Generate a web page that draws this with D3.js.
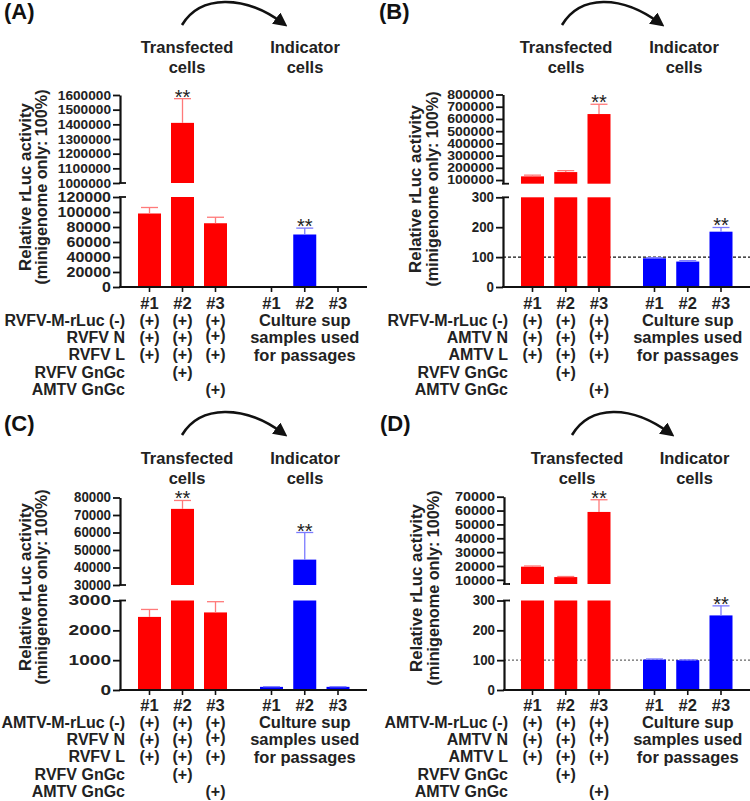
<!DOCTYPE html>
<html><head><meta charset="utf-8">
<script src="https://cdn.jsdelivr.net/npm/d3@7"></script>
<style>
body{margin:0;background:#fff;}
svg text{font-family:"Liberation Sans",Arial,Helvetica,sans-serif;}
</style></head><body>
<svg id="chart" width="750" height="801"></svg>
<script>
// ---------- DATA ----------
const samples = ["#1", "#2", "#3"];
const plusMatrix = [[1,1,1],[1,1,1],[1,1,1],[0,1,0],[0,0,1]];
const cultureText = ["Culture sup", "samples used", "for passages"];

// Panel A
const aRows = ["RVFV-M-rLuc (-)", "RVFV N", "RVFV L", "RVFV GnGc", "AMTV GnGc"];
const aTransfected = [98000, 1410000, 85000];
const aTransfectedSD = [8000, 165000, 8000];
const aIndicator = [100, 70000, 100];
const aIndicatorSD = [10, 8500, 10];
const aTicksBottom = [0, 20000, 40000, 60000, 80000, 100000, 120000];
const aTicksTop = [1000000, 1100000, 1200000, 1300000, 1400000, 1500000, 1600000];

// Panel B
const bRows = ["RVFV-M-rLuc (-)", "AMTV N", "AMTV L", "RVFV GnGc", "AMTV GnGc"];
const bTransfected = [130000, 165000, 640000];
const bTransfectedSD = [10000, 12000, 80000];
const bIndicator = [96, 85, 185];
const bIndicatorSD = [2, 3, 14];
const bTicksBottom = [0, 100, 200, 300];
const bTicksTop = [100000, 200000, 300000, 400000, 500000, 600000, 700000, 800000];

// Panel C
const cRows = ["AMTV-M-rLuc (-)", "RVFV N", "RVFV L", "RVFV GnGc", "AMTV GnGc"];
const cTransfected = [2450, 73500, 2600];
const cTransfectedSD = [250, 4800, 360];
const cIndicator = [105, 44500, 105];
const cIndicatorSD = [5, 15500, 5];
const cTicksBottom = [0, 1000, 2000, 3000];
const cTicksTop = [30000, 40000, 50000, 60000, 70000, 80000];

// Panel D
const dRows = ["AMTV-M-rLuc (-)", "AMTV N", "AMTV L", "RVFV GnGc", "AMTV GnGc"];
const dTransfected = [19500, 12000, 59000];
const dTransfectedSD = [500, 400, 8800];
const dIndicator = [102, 100, 250];
const dIndicatorSD = [2, 1, 32];
const dTicksBottom = [0, 100, 200, 300];
const dTicksTop = [10000, 20000, 30000, 40000, 50000, 60000, 70000];

// ---------- LAYOUT ----------
const panels = [
  {label:"(A)", lx:4, ly:19, ax:120, zeroY:287, arrow:[182,25,284,24], titleY:53, transX:187, indX:305,
   yTitle:[31,47,187], rowX:125, rowTop:308.5,
   rows:aRows, red:aTransfected, redSD:aTransfectedSD, blue:aIndicator, blueSD:aIndicatorSD, sigIdx:1,
   redRange:[149.5,215.5], blueRange:[271.5,338], xEnd:367, ref:null,
   segs:[{domain:[0,120000], range:[287,197], ticks:aTicksBottom, dw:8.9, fs:14},
         {domain:[1000000,1600000], range:[183,95], ticks:aTicksTop, dw:7.6, fs:13.5}]},
  {label:"(B)", lx:379, ly:19, ax:503, zeroY:287, arrow:[562,25,661,24], titleY:53, transX:566, indX:684,
   yTitle:[421,438,189], rowX:508, rowTop:308.5,
   rows:bRows, red:bTransfected, redSD:bTransfectedSD, blue:bIndicator, blueSD:bIndicatorSD, sigIdx:2,
   redRange:[532.5,599], blueRange:[654.5,721], xEnd:750, ref:{v:100, color:"#111", dash:"3,2"},
   segs:[{domain:[0,300], range:[287,197.3], ticks:bTicksBottom, dw:7.4, fs:14},
         {domain:[70000,800000], range:[183.7,94.5], ticks:bTicksTop, dw:7.8, fs:12}]},
  {label:"(C)", lx:4, ly:431, ax:120, zeroY:690, arrow:[182,435,284,434], titleY:464, transX:187, indX:305,
   yTitle:[31,47,587], rowX:125, rowTop:710.5,
   rows:cRows, red:cTransfected, redSD:cTransfectedSD, blue:cIndicator, blueSD:cIndicatorSD, sigIdx:1,
   redRange:[149.5,215.5], blueRange:[271.5,338], xEnd:367, ref:null,
   segs:[{domain:[0,3000], range:[690,600.5], ticks:cTicksBottom, dw:10.6, fs:14},
         {domain:[30000,80000], range:[585,497.5], ticks:cTicksTop, dw:7.4, fs:14}]},
  {label:"(D)", lx:380, ly:431, ax:504, zeroY:690, arrow:[572,435,671,434], titleY:464, transX:577, indX:694.5,
   yTitle:[422,439,588], rowX:508, rowTop:710.5,
   rows:dRows, red:dTransfected, redSD:dTransfectedSD, blue:dIndicator, blueSD:dIndicatorSD, sigIdx:2,
   redRange:[532.5,599], blueRange:[654.5,721], xEnd:750, ref:{v:100, color:"#666", dash:"2,2"},
   segs:[{domain:[0,300], range:[690,600.5], ticks:dTicksBottom, dw:7.4, fs:14},
         {domain:[7000,70000], range:[584,496.7], ticks:dTicksTop, dw:8.0, fs:13}]}
];

const RED = "#ff0000", BLUE = "#0000ff", RED_ERR = "#ff7a7a", BLUE_ERR = "#7a7aff";
const BAR_W = 23, ROW_H = 17.3;

const svg = d3.select("#chart");
svg.append("rect").attr("width",750).attr("height",801).attr("fill","#fff");
const defs = svg.append("defs");
defs.append("marker").attr("id","ah").attr("viewBox","0 0 10 10").attr("refX",7).attr("refY",5)
  .attr("markerWidth",14).attr("markerHeight",14).attr("markerUnits","userSpaceOnUse").attr("orient","auto")
  .append("path").attr("d","M0,0 L10,5 L0,10 z").attr("fill","#111");

function drawPanel(p) {
  const g = svg.append("g");
  // panel label
  g.append("text").attr("x",p.lx).attr("y",p.ly).attr("font-size",22).attr("font-weight","bold").attr("fill","#111").text(p.label);
  // arrow
  const [x1,y1,x2,y2] = p.arrow;
  g.append("path")
    .attr("d",`M${x1},${y1} C${x1+18},${y1-30} ${x2-40},${y1-31} ${x2},${y2}`)
    .attr("fill","none").attr("stroke","#111").attr("stroke-width",2.6).attr("marker-end","url(#ah)");
  // titles
  [["Transfected","cells",p.transX],["Indicator","cells",p.indX]].forEach(([t1,t2,x])=>{
    g.append("text").attr("x",x).attr("y",p.titleY).attr("text-anchor","middle").attr("font-size",16.5).attr("font-weight","bold").attr("fill","#222").text(t1);
    g.append("text").attr("x",x).attr("y",p.titleY+19.5).attr("text-anchor","middle").attr("font-size",16.5).attr("font-weight","bold").attr("fill","#222").text(t2);
  });
  // y title
  g.append("text").attr("transform",`translate(${p.yTitle[0]},${p.yTitle[2]}) rotate(-90)`).attr("text-anchor","middle")
    .attr("font-size",16.8).attr("font-weight","bold").attr("fill","#222").text("Relative rLuc activity");
  g.append("text").attr("transform",`translate(${p.yTitle[1]},${p.yTitle[2]}) rotate(-90)`).attr("text-anchor","middle")
    .attr("font-size",16.2).attr("font-weight","bold").attr("fill","#222").text("(minigenome only: 100%)");

  const xRed = d3.scalePoint().domain(samples).range(p.redRange);
  const xBlue = d3.scalePoint().domain(samples).range(p.blueRange);
  const series = [
    {x:xRed, v:p.red, sd:p.redSD, color:RED, err:RED_ERR},
    {x:xBlue, v:p.blue, sd:p.blueSD, color:BLUE, err:BLUE_ERR}
  ];

  // reference line
  if (p.ref) {
    const yb = d3.scaleLinear().domain(p.segs[0].domain).range(p.segs[0].range);
    g.append("line").attr("x1",p.ax).attr("x2",p.xEnd).attr("y1",yb(p.ref.v)).attr("y2",yb(p.ref.v))
      .attr("stroke",p.ref.color).attr("stroke-width",1.2).attr("stroke-dasharray",p.ref.dash);
  }

  const errTops = [[],[]];
  p.segs.forEach(seg => {
    const y = d3.scaleLinear().domain(seg.domain).range(seg.range);
    const [lo, hi] = seg.domain;
    series.forEach((s, si) => {
      samples.forEach((k, i) => {
        const v = s.v[i], top = v + s.sd[i];
        const cx = s.x(k);
        if (v > lo) {
          g.append("rect").attr("x",cx-BAR_W/2).attr("width",BAR_W)
            .attr("y",y(Math.min(v,hi))).attr("height",y(lo)-y(Math.min(v,hi))).attr("fill",s.color);
        }
        if (v >= lo && v <= hi) {
          const t = Math.min(top, hi);
          g.append("line").attr("x1",cx).attr("x2",cx).attr("y1",y(v)).attr("y2",y(t)).attr("stroke",s.err).attr("stroke-width",1.3);
          if (top <= hi) {
            g.append("line").attr("x1",cx-8.5).attr("x2",cx+8.5).attr("y1",y(t)).attr("y2",y(t)).attr("stroke",s.err).attr("stroke-width",1.3);
            errTops[si][i] = y(t);
          }
        }
      });
    });
    // axis segment
    const axis = d3.axisLeft(y).tickValues(seg.ticks).tickSize(7).tickSizeOuter(0).tickPadding(2).tickFormat(d => String(d));
    const ag = g.append("g").attr("transform",`translate(${p.ax},0)`).call(axis);
    ag.select(".domain").attr("stroke","#111").attr("stroke-width",2.2);
    ag.selectAll(".tick line").attr("stroke","#111").attr("stroke-width",1.8);
    ag.selectAll(".tick text").attr("fill","#222").attr("font-size",seg.fs).attr("font-weight","bold")
      .attr("font-family","'Liberation Sans',Arial,sans-serif")
      .attr("textLength", d => String(d).length * seg.dw).attr("lengthAdjust","spacingAndGlyphs");
  });
  // break feet
  const yBot = p.segs[0].range[1], yTopSeg = p.segs[1].range[0];
  [yBot, yTopSeg].forEach(yy => {
    g.append("line").attr("x1",p.ax-1).attr("x2",p.ax+6).attr("y1",yy).attr("y2",yy).attr("stroke","#111").attr("stroke-width",1.8);
  });
  // x axis
  g.append("line").attr("x1",p.ax-1).attr("x2",p.xEnd).attr("y1",p.zeroY).attr("y2",p.zeroY).attr("stroke","#111").attr("stroke-width",2.2);
  series.forEach(s => samples.forEach(k => {
    g.append("line").attr("x1",s.x(k)).attr("x2",s.x(k)).attr("y1",p.zeroY).attr("y2",p.zeroY+5).attr("stroke","#111").attr("stroke-width",1.6);
    g.append("text").attr("x",s.x(k)).attr("y",p.rowTop).attr("text-anchor","middle").attr("font-size",16.5)
      .attr("font-weight","bold").attr("fill","#222").text(k);
  }));
  // significance
  series.forEach((s, si) => {
    const i = p.sigIdx;
    g.append("text").attr("x",s.x(samples[i])).attr("y",errTops[si][i] + 5).attr("text-anchor","middle")
      .attr("font-size",20).attr("fill","#222").text("**");
  });
  // construct rows
  p.rows.forEach((r, ri) => {
    const yy = p.rowTop + ROW_H*(ri+1);
    g.append("text").attr("x",p.rowX).attr("y",yy).attr("text-anchor","end").attr("font-size",16)
      .attr("font-weight","bold").attr("fill","#222").text(r);
    samples.forEach((k, ki) => {
      if (plusMatrix[ri][ki]) {
        const raise = (ri === 1 && ki === 2) ? -2.5 : 0;
        g.append("text").attr("x",xRed(k)).attr("y",yy+raise).attr("text-anchor","middle").attr("font-size",16)
          .attr("font-weight","bold").attr("fill","#222").text("(+)");
      }
    });
  });
  cultureText.forEach((t, ti) => {
    g.append("text").attr("x",xBlue(samples[1])).attr("y",p.rowTop + ROW_H*(ti+1) + (ti===2?1:0)).attr("text-anchor","middle")
      .attr("font-size",16.5).attr("font-weight","bold").attr("fill","#222").text(t);
  });
}
panels.forEach(drawPanel);
</script>
</body></html>
